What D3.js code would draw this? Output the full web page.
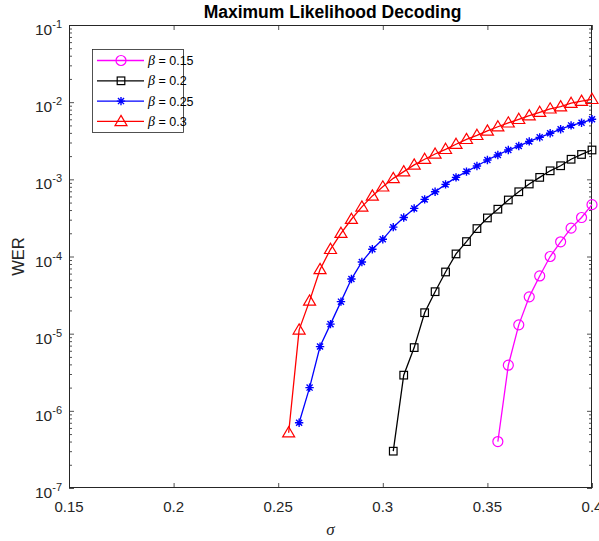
<!DOCTYPE html>
<html>
<head>
<meta charset="utf-8">
<script src="https://cdn.jsdelivr.net/npm/d3@7"></script>
<style>
  html, body { margin: 0; padding: 0; background: #fff; }
  svg { display: block; }
</style>
</head>
<body>
<svg id="chart" width="599" height="541"></svg>
<script>
// ---------------- data ----------------
const sigma015 = [0.355,0.36,0.365,0.37,0.375,0.38,0.385,0.39,0.395,0.4];
const wer015   = [4.0e-7,3.9e-6,1.3e-5,3.0e-5,5.6e-5,1.0e-4,1.55e-4,2.33e-4,3.2e-4,4.7e-4];

const sigma02 = [0.305,0.31,0.315,0.32,0.325,0.33,0.335,0.34,0.345,0.35,0.355,0.36,0.365,0.37,0.375,0.38,0.385,0.39,0.395,0.4];
const wer02   = [3.0e-7,2.9e-6,6.6e-6,1.87e-5,3.5e-5,6.3e-5,1.08e-4,1.56e-4,2.3e-4,3.16e-4,4.1e-4,5.4e-4,6.9e-4,8.7e-4,1.06e-3,1.29e-3,1.5e-3,1.82e-3,2.1e-3,2.4e-3];

const sigma025 = [0.26,0.265,0.27,0.275,0.28,0.285,0.29,0.295,0.3,0.305,0.31,0.315,0.32,0.325,0.33,0.335,0.34,0.345,0.35,0.355,0.36,0.365,0.37,0.375,0.38,0.385,0.39,0.395,0.4];
const wer025   = [7.0e-7,2.0e-6,6.8e-6,1.33e-5,2.6e-5,5.1e-5,8.5e-5,1.24e-4,1.67e-4,2.4e-4,3.2e-4,4.2e-4,5.5e-4,6.9e-4,8.6e-4,1.06e-3,1.26e-3,1.49e-3,1.78e-3,2.07e-3,2.4e-3,2.7e-3,3.1e-3,3.5e-3,3.95e-3,4.46e-3,5.0e-3,5.4e-3,6.0e-3];

const sigma03 = [0.255,0.26,0.265,0.27,0.275,0.28,0.285,0.29,0.295,0.3,0.305,0.31,0.315,0.32,0.325,0.33,0.335,0.34,0.345,0.35,0.355,0.36,0.365,0.37,0.375,0.38,0.385,0.39,0.395,0.4];
const wer03   = [5.2e-7,1.12e-5,2.66e-5,6.8e-5,1.24e-4,2.0e-4,3.04e-4,4.4e-4,6.1e-4,8.0e-4,1.03e-3,1.26e-3,1.54e-3,1.82e-3,2.13e-3,2.45e-3,2.85e-3,3.3e-3,3.72e-3,4.24e-3,4.8e-3,5.4e-3,6.0e-3,6.7e-3,7.4e-3,8.2e-3,8.75e-3,9.7e-3,1.03e-2,1.09e-2];

const seriesLabels = ["0.15", "0.2", "0.25", "0.3"];
const seriesColors = ["#ff00ff", "#000000", "#0000ff", "#ff0000"];
const seriesMarkers = ["circle", "square", "star", "triangle"];

const xTicks = [0.15, 0.2, 0.25, 0.3, 0.35, 0.4];
const xTickLabels = ["0.15", "0.2", "0.25", "0.3", "0.35", "0.4"];
const yExponents = [-1, -2, -3, -4, -5, -6, -7];

const titleText = "Maximum Likelihood Decoding";
const xLabelText = "σ";
const yLabelText = "WER";

// ---------------- layout ----------------
const W = 599, H = 541;
const m = { left: 69, top: 25, right: 7, bottom: 53 };
const pw = W - m.left - m.right, ph = H - m.top - m.bottom;
const axisColor = "#262626";
const sans = "'Liberation Sans', Arial, Helvetica, sans-serif";
const serif = "'Liberation Serif', 'Times New Roman', serif";

const svg = d3.select("#chart");
svg.append("rect").attr("width", W).attr("height", H).attr("fill", "#fff");

const x = d3.scaleLinear().domain([0.15, 0.4]).range([m.left, m.left + pw]);
const y = d3.scaleLog().domain([1e-7, 1e-1]).range([m.top + ph, m.top]);

const g = svg.append("g");
g.append("rect").attr("x", m.left).attr("y", m.top).attr("width", pw).attr("height", ph).attr("fill", "#fff");

// ---------- axes via d3 ----------
const majorLen = 5, minorLen = 3;
const minorVals = [];
for (let e = -7; e < -1; e++) for (let k = 2; k <= 9; k++) minorVals.push(k * Math.pow(10, e));
const majorVals = yExponents.map(e => Math.pow(10, e));

function styleAxis(sel) {
  sel.select(".domain").remove();
  sel.selectAll(".tick line").attr("stroke", axisColor).attr("stroke-width", 0.8);
  sel.selectAll(".tick text").remove();
}

g.append("g").attr("transform", `translate(0,${m.top + ph})`)
  .call(d3.axisTop(x).tickValues(xTicks).tickSize(majorLen).tickFormat(""))
  .call(styleAxis);
g.append("g").attr("transform", `translate(0,${m.top})`)
  .call(d3.axisBottom(x).tickValues(xTicks).tickSize(majorLen).tickFormat(""))
  .call(styleAxis);
g.append("g").attr("transform", `translate(${m.left},0)`)
  .call(d3.axisRight(y).tickValues(majorVals).tickSize(majorLen).tickFormat(""))
  .call(styleAxis);
g.append("g").attr("transform", `translate(${m.left},0)`)
  .call(d3.axisRight(y).tickValues(minorVals).tickSize(minorLen).tickFormat(""))
  .call(styleAxis);
g.append("g").attr("transform", `translate(${m.left + pw},0)`)
  .call(d3.axisLeft(y).tickValues(majorVals).tickSize(majorLen).tickFormat(""))
  .call(styleAxis);
g.append("g").attr("transform", `translate(${m.left + pw},0)`)
  .call(d3.axisLeft(y).tickValues(minorVals).tickSize(minorLen).tickFormat(""))
  .call(styleAxis);

g.append("rect").attr("x", m.left + 0.5).attr("y", m.top + 0.5)
  .attr("width", pw - 1).attr("height", ph - 1)
  .attr("fill", "none").attr("stroke", axisColor).attr("stroke-width", 1);

g.selectAll(".xtl").data(xTicks).enter().append("text")
  .attr("x", d => x(d)).attr("y", m.top + ph + 24)
  .attr("text-anchor", "middle")
  .attr("font-family", sans).attr("font-size", 15).attr("fill", axisColor)
  .text((d, i) => xTickLabels[i]);

yExponents.forEach(e => {
  const t = g.append("text")
    .attr("x", m.left - 7).attr("y", y(Math.pow(10, e)) + 10)
    .attr("text-anchor", "end")
    .attr("font-family", sans).attr("fill", axisColor);
  t.append("tspan").attr("font-size", 15.5).text("10");
  t.append("tspan").attr("font-size", 11).attr("dy", -7).text(String(e));
});

svg.append("text").attr("x", m.left + pw / 2 + 2).attr("y", 18)
  .attr("text-anchor", "middle").attr("font-family", sans)
  .attr("font-weight", "bold").attr("font-size", 17.5).attr("fill", "#000")
  .text(titleText);

svg.append("text").attr("x", m.left + pw / 2).attr("y", 535)
  .attr("text-anchor", "middle").attr("font-family", serif)
  .attr("font-style", "italic").attr("font-size", 17).attr("fill", axisColor)
  .text(xLabelText);

svg.append("text").attr("transform", `translate(24,${m.top + ph / 2}) rotate(-90)`)
  .attr("text-anchor", "middle").attr("font-family", sans)
  .attr("font-size", 16.5).attr("fill", axisColor)
  .text(yLabelText);

// ---------- markers ----------
function drawMarker(sel, type, color) {
  if (type === "circle") {
    sel.append("circle").attr("r", 5).attr("fill", "none").attr("stroke", color).attr("stroke-width", 1.2);
  } else if (type === "square") {
    sel.append("rect").attr("x", -3.8).attr("y", -3.8).attr("width", 7.6).attr("height", 7.6)
      .attr("fill", "none").attr("stroke", color).attr("stroke-width", 1.2);
  } else if (type === "triangle") {
    sel.append("path").attr("d", "M0,-6 L6,4.2 L-6,4.2 Z")
      .attr("fill", "none").attr("stroke", color).attr("stroke-width", 1.2);
  } else if (type === "star") {
    const r = 4.2, d = r * 0.72;
    sel.append("path")
      .attr("d", `M${-r},0L${r},0M0,${-r}L0,${r}M${-d},${-d}L${d},${d}M${-d},${d}L${d},${-d}`)
      .attr("fill", "none").attr("stroke", color).attr("stroke-width", 1.4);
  }
}

const seriesData = [
  sigma015.map((s, i) => [s, wer015[i]]),
  sigma02.map((s, i) => [s, wer02[i]]),
  sigma025.map((s, i) => [s, wer025[i]]),
  sigma03.map((s, i) => [s, wer03[i]])
];

const line = d3.line().x(d => x(d[0])).y(d => y(d[1]));
const plot = svg.append("g");
seriesData.forEach((data, si) => {
  plot.append("path").datum(data).attr("d", line)
    .attr("fill", "none").attr("stroke", seriesColors[si]).attr("stroke-width", 1.3);
  plot.selectAll(null).data(data).enter().append("g")
    .attr("transform", d => `translate(${x(d[0])},${y(d[1])})`)
    .each(function () { drawMarker(d3.select(this), seriesMarkers[si], seriesColors[si]); });
});

// ---------- legend ----------
const lg = svg.append("g");
const lx = 92, ly = 49, lw = 91, lh = 83;
lg.append("rect").attr("x", lx + 0.5).attr("y", ly + 0.5).attr("width", lw).attr("height", lh)
  .attr("fill", "#fff").attr("stroke", axisColor).attr("stroke-width", 0.8);
seriesLabels.forEach((lab, i) => {
  const cy = ly + 11.5 + i * 20.3;
  lg.append("line").attr("x1", lx + 5).attr("x2", lx + 52).attr("y1", cy).attr("y2", cy)
    .attr("stroke", seriesColors[i]).attr("stroke-width", 1.3);
  const mg = lg.append("g").attr("transform", `translate(${lx + 29},${cy})`);
  drawMarker(mg, seriesMarkers[i], seriesColors[i]);
  const t = lg.append("text").attr("x", lx + 56).attr("y", cy + 4.5)
    .attr("font-family", sans).attr("font-size", 12.5).attr("fill", "#000");
  t.append("tspan").attr("font-family", serif).attr("font-style", "italic").attr("font-size", 14).text("β");
  t.append("tspan").text(" = " + lab);
});
</script>
</body>
</html>
